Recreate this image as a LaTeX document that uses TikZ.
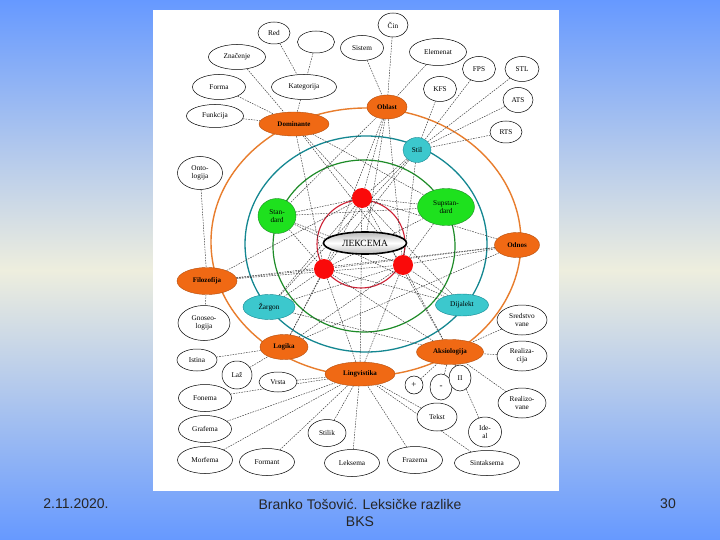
\documentclass[tikz,border=0pt]{standalone}
\usepackage{fontspec}
\setmainfont{Liberation Serif}
\newfontfamily\footfont{Liberation Sans}
\usetikzlibrary{shapes.geometric}
\pgfdeclarelayer{bglayer}
\pgfdeclarelayer{lines}
\pgfsetlayers{bglayer,lines,main}
\definecolor{bgblue}{RGB}{102,153,255}
\definecolor{bgpale}{RGB}{238,238,222}
\definecolor{orgfill}{RGB}{240,105,20}
\definecolor{orgring}{RGB}{232,125,45}
\definecolor{tealfill}{RGB}{60,200,205}
\definecolor{tealring}{RGB}{20,135,145}
\definecolor{grnfill}{RGB}{30,225,30}
\definecolor{grnring}{RGB}{30,140,40}
\definecolor{redfill}{RGB}{250,10,10}
\definecolor{redring}{RGB}{205,30,50}
\begin{document}
\begin{tikzpicture}[x=1pt,y=-1pt,
  every node/.style={font=\fontsize{7.3}{7.8}\selectfont, inner sep=0pt, align=center},
  sz/.style 2 args={minimum width=#1, minimum height=#2},
  wn/.style={ellipse, draw=black, line width=0.5pt, fill=white},
  on/.style={ellipse, draw=orgfill!75!black, line width=0.4pt, fill=orgfill, font=\fontsize{7}{7.6}\selectfont\bfseries},
  tn/.style={ellipse, draw=tealring, fill=tealfill, line width=0.4pt},
  gn/.style={ellipse, draw=grnring, fill=grnfill, line width=0.4pt},
  rn/.style={circle, fill=redfill, minimum size=20pt},
  con/.style={draw=black!80, line width=0.45pt, dash pattern=on 1.6pt off 1.1pt},
  foot/.style={font=\footfont\fontsize{14}{17}\selectfont, text=black!85},
]
\useasboundingbox (0,0) rectangle (720,540);
\begin{pgfonlayer}{bglayer}
\fill[top color=bgblue, bottom color=bgpale] (0,0) rectangle (720,270);
\fill[top color=bgpale, bottom color=bgblue] (0,270) rectangle (720,540);
\fill[white] (153,10) rectangle (559,491);
\draw[orgring, line width=1.4pt] (366,242) ellipse [x radius=155, y radius=134];
\draw[tealring, line width=1.3pt] (366,244) ellipse [x radius=121, y radius=108];
\draw[grnring, line width=1.2pt] (364,246) ellipse [x radius=91, y radius=86];
\draw[redring, line width=1.1pt] (361,244) circle [radius=44];
\end{pgfonlayer}

% top left
\node[wn,sz={32}{22}] (red) at (274,33) {Red};
\node[wn,sz={37}{22}] (empty) at (316,42) {};
\node[wn,sz={57}{25}] (znac) at (237,57) {Značenje};
\node[wn,sz={53}{25}] (forma) at (219,87) {Forma};
\node[wn,sz={65}{25}] (kat) at (304,87) {Kategorija};
\node[wn,sz={57}{23}] (funk) at (215,116) {Funkcija};
\node[on,sz={70}{24}] (dom) at (294,124) {Dominante};
% top right
\node[wn,sz={43}{25}] (sist) at (362,48) {Sistem};
\node[wn,sz={30}{24}] (cin) at (393,25) {Čin};
\node[wn,sz={57}{27}] (elem) at (438,52) {Elemenat};
\node[wn,sz={33}{25}] (fps) at (479,69) {FPS};
\node[wn,sz={34}{25}] (stl) at (522,69) {STL};
\node[wn,sz={33}{25}] (kfs) at (440,89) {KFS};
\node[wn,sz={30}{25}] (ats) at (518,100) {ATS};
\node[wn,sz={32}{22}] (rts) at (506,132) {RTS};
\node[on,sz={40}{24}] (obl) at (387,107) {Oblast};
% rings
\node[tn,sz={28}{25}] (stil) at (417,150) {Stil};
\node[gn,sz={57}{37}] (sups) at (446,207) {Supstan-\\dard};
\node[on,sz={45}{25}] (odn) at (517,245) {Odnos};
\node[gn,sz={38}{35}] (std) at (277,216) {Stan-\\dard};
\node[on,sz={60}{27}] (filo) at (207,281) {Filozofija};
\node[tn,sz={52}{25}] (zarg) at (269,307) {Žargon};
\node[tn,sz={53}{22}] (dij) at (462,305) {Dijalekt};
\node[on,sz={48}{25}] (logi) at (284,347) {Logika};
\node[on,sz={67}{25}] (aks) at (450,352) {Aksiologija};
\node[on,sz={70}{24}] (ling) at (360,374) {Lingvistika};
% center
\node[rn] (rt) at (362,198) {};
\node[rn] (rl) at (324,269) {};
\node[rn] (rr) at (403,265) {};
\node[ellipse, draw=black, line width=1.6pt, top color=gray!55, bottom color=gray!55, middle color=white, sz={83}{22}, font=\fontsize{9.5}{10}\selectfont] (lek) at (365,243) {ЛЕКСЕМА};
% left
\node[wn,sz={45}{33}] (onto) at (200,173) {Onto-\\logija};
\node[wn,sz={52}{35}] (gnos) at (204,323) {Gnoseo-\\logija};
\node[wn,sz={40}{22}] (ist) at (197,360) {Istina};
\node[wn,sz={30}{28}] (laz) at (237,375) {Laž};
\node[wn,sz={38}{20}] (vrsta) at (278,382) {Vrsta};
% bottom
\node[wn,sz={53}{27}] (fon) at (205,398) {Fonema};
\node[wn,sz={53}{27}] (graf) at (205,429) {Grafema};
\node[wn,sz={55}{27}] (morf) at (205,460) {Morfema};
\node[wn,sz={55}{27}] (formant) at (267,462) {Formant};
\node[wn,sz={38}{27}] (stilik) at (327,433) {Stilik};
\node[wn,sz={55}{27}] (leks) at (352,463) {Leksema};
\node[wn,sz={40}{28}] (tekst) at (437,417) {Tekst};
\node[wn,sz={55}{27}] (fraz) at (415,460) {Frazema};
\node[wn,sz={65}{25}] (sint) at (487,463) {Sintaksema};
\node[wn,sz={33}{30}] (ideal) at (485,432) {Ide-\\al};
% right
\node[wn,sz={18}{18}, font=\fontsize{9}{9}\selectfont] (plus) at (414,385) {+};
\node[wn,sz={22}{26}, font=\fontsize{9}{9}\selectfont] (minus) at (441,387) {-};
\node[wn,sz={22}{26}] (ii) at (460,378) {II};
\node[wn,sz={50}{30}] (sr1) at (522,320) {Sredstvo\\vane};
\node[wn,sz={50}{30}] (sr2) at (522,356) {Realiza-\\cija};
\node[wn,sz={48}{30}] (sr3) at (522,403) {Realizo-\\vane};

% footer
\node[foot] at (76,504) {2.11.2020.};
\node[foot, align=center] at (360,513) {Branko Tošović. Leksičke razlike\\BKS};
\node[foot] at (668,504) {30};

\begin{pgfonlayer}{lines}
\foreach \a/\b in {red/kat, empty/kat, znac/dom, forma/dom, kat/dom, funk/dom,
  sist/obl, cin/obl, elem/obl, fps/stil, stl/stil, kfs/stil, ats/stil, rts/stil,
  onto/filo, filo/gnos, ist/logi, laz/logi,
  vrsta/ling, fon/ling, graf/ling, morf/ling, formant/ling, stilik/ling, leks/ling,
  fraz/ling, sint/ling, tekst/ling,
  plus/aks, minus/aks, ii/aks, sr1/aks, sr2/aks, sr3/aks, ideal/aks,
  std/sups, filo/odn, dom/sups, obl/std, stil/zarg, odn/logi, dij/std, aks/zarg, obl/lek}
  \draw[con] (\a) -- (\b);
\foreach \a in {dom, obl, stil, std, sups, odn, filo, zarg, dij, logi, aks, ling}
  \foreach \b in {rt, rl, rr}
    \draw[con] (\a) -- (\b);
\end{pgfonlayer}
\end{tikzpicture}
\end{document}
